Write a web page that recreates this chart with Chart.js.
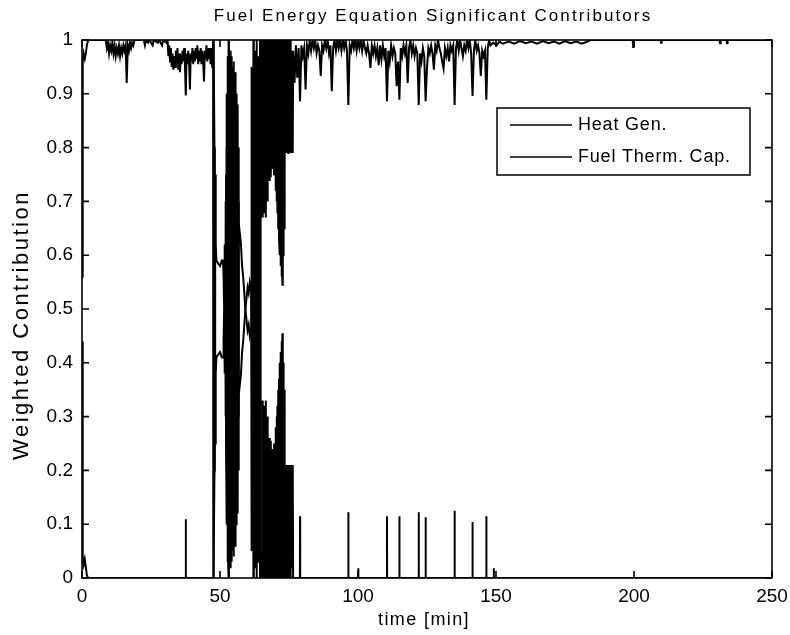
<!DOCTYPE html>
<html>
<head>
<meta charset="utf-8">
<script src="https://cdn.jsdelivr.net/npm/chart.js@4.4.1/dist/chart.umd.min.js"></script>
<style>
  html, body { margin: 0; padding: 0; background: #fff; }
  #wrap { width: 790px; height: 635px; }
</style>
</head>
<body>
<div id="wrap"><canvas id="chart" width="790" height="635"></canvas></div>
<script>
// axis ticks
const xTicks = [0, 50, 100, 150, 200, 250];
const yTicks = [0, 0.1, 0.2, 0.3, 0.4, 0.5, 0.6, 0.7, 0.8, 0.9, 1];

const chartTitle = 'Fuel Energy Equation Significant Contributors';
const xTitle = 'time [min]';
const yTitle = 'Weighted Contribution';
const seriesLabels = ['Heat Gen.', 'Fuel Therm. Cap.'];

// Heat Gen. : time [min]
const heatTime = [
  0, 0.25, 0.6, 1.0, 1.4, 1.75, 2.25,
  8.6, 9.0, 9.4, 9.8, 10.2, 10.6, 11.0, 11.4, 11.8, 12.2, 12.6, 13.0, 13.4, 13.8, 14.2, 14.6, 15.0, 15.4, 15.8, 16.2,
  16.6, 17.0, 17.4, 17.8, 18.2, 18.6, 19.0,
  22.4, 22.8, 23.2, 23.9, 24.4, 25.6, 26.0, 27.5, 28.0, 29.0, 29.5, 30.5,
  31.0, 31.3, 31.6, 31.9, 32.2, 32.5, 32.8, 33.1, 33.4, 33.7,
  34.0, 34.3, 34.6, 34.9, 35.2, 35.5, 35.8, 36.1, 36.4, 36.7,
  37.0, 37.3, 37.6, 37.9, 38.2, 38.5, 38.8, 39.1, 39.4, 39.7,
  40.0, 40.3, 40.6, 40.9, 41.2, 41.5, 41.8, 42.1, 42.4, 42.7,
  43.0, 43.3, 43.6, 43.9, 44.2, 44.5, 44.8, 45.1, 45.4, 45.7,
  46.0, 46.3, 46.6, 46.9, 47.2, 47.45,
  // mixing
  47.55, 47.6, 47.65, 47.8, 48.0, 48.15, 48.3, 48.45, 48.7, 49.3, 50.0, 50.7, 51.1, 51.3, 51.5, 51.7, 51.9,
  52.05, 52.2, 52.35, 52.5, 52.65, 52.8, 52.95, 53.1, 53.25, 53.4, 53.55, 53.7, 53.85, 54.0, 54.15, 54.3,
  54.45, 54.6, 54.75, 54.9, 55.05, 55.2, 55.35, 55.5, 55.65, 55.8, 55.95, 56.1, 56.25, 56.4, 56.55, 56.7, 56.85,
  57.2, 57.6, 58.0, 58.4, 58.8, 59.2, 59.6, 60.0, 60.4, 60.8, 61.2, 61.3, 61.4,
  61.5, 61.65, 61.8, 61.95, 62.1, 62.25, 62.4, 62.55, 62.7, 62.85,
  63.0, 63.15, 63.3, 63.45, 63.6, 63.75, 63.9, 64.05, 64.2, 64.35,
  64.5, 64.65, 64.8, 64.95, 65.1, 65.25, 65.4, 65.55, 65.7, 65.85,
  66.0, 66.15, 66.3, 66.45, 66.6, 66.75, 66.9, 67.05, 67.2, 67.35,
  67.5, 67.65, 67.8, 67.95, 68.1, 68.25, 68.4, 68.55, 68.7, 68.85,
  69.0, 69.15, 69.3, 69.45, 69.6, 69.75, 69.9, 70.05, 70.2, 70.35,
  70.5, 70.65, 70.8, 70.95, 71.1, 71.25, 71.4, 71.55, 71.7, 71.85,
  72.0, 72.15, 72.3, 72.45, 72.6, 72.75, 72.9, 73.05, 73.2, 73.35,
  73.5, 73.65, 73.8, 73.95, 74.1, 74.25, 74.4, 74.55, 74.7, 74.85,
  75.0, 75.15, 75.3, 75.45, 75.6, 75.75, 75.9, 76.05, 76.2, 76.35,
  // dense band at the top
  76.5, 77.0, 77.5, 78.0, 78.5, 79.0, 79.5, 80.0, 80.5, 81.0,
  81.5, 82.0, 82.5, 83.0, 83.5, 84.0, 84.5, 85.0, 85.5, 86.0,
  86.5, 87.0, 87.5, 88.0, 88.5, 89.0, 89.5, 90.0, 90.5, 91.0,
  91.5, 92.0, 92.5, 93.0, 93.5, 94.0, 94.5, 95.0, 95.5, 96.0,
  96.5, 97.0, 97.5, 98.0, 98.5, 99.0, 99.5, 100.0, 100.5, 101.0,
  101.5, 102.0, 102.5, 103.0, 103.5, 104.0, 104.5, 105.0, 105.5, 106.0,
  106.5, 107.0, 107.5, 108.0, 108.5, 109.0, 109.5, 110.0, 110.5, 111.0,
  111.5, 112.0, 112.5, 113.0, 113.5, 114.0, 114.5, 115.0, 115.5, 116.0,
  116.5, 117.0, 117.5, 118.0, 118.5, 119.0, 119.5, 120.0, 120.5, 121.0,
  121.5, 122.0, 122.5, 123.0, 123.5, 124.0, 124.5, 125.0, 125.5, 126.0,
  126.5, 127.0, 127.5, 128.0, 128.5, 129.0, 129.5, 130.0, 130.5, 131.0,
  131.5, 132.0, 132.5, 133.0, 133.5, 134.0, 134.5, 135.0, 135.5, 136.0,
  136.5, 137.0, 137.5, 138.0, 138.5, 139.0, 139.5, 140.0, 140.5, 141.0,
  141.5, 142.0, 142.5, 143.0, 143.5, 144.0, 144.5, 145.0, 145.5, 146.0,
  146.5, 147.0, 147.5, 148.0,
  // tail
  149.0, 150.2, 151.2, 152.5, 154.6, 156.6, 158.7, 160.8, 162.8, 164.9,
  167.0, 169.0, 171.0, 173.0, 175.0, 177.0, 179.1, 181.1, 183.1, 184.2,
  199.5, 199.7, 199.9, 209.6, 209.8, 210.0, 231.0, 231.2, 231.4, 233.5,
  233.7, 233.9, 250
];
// Heat Gen. : weighted contribution
const heatGen = [
  0.56, 0.96, 0.975, 0.965, 0.975, 0.99, 1,
  1, 0.985, 0.995, 0.975, 0.99, 0.98, 0.995, 0.975, 0.99, 0.97, 0.985, 0.975, 0.99, 0.97, 0.985, 0.975, 0.99, 0.98, 0.99, 0.92,
  0.99, 0.98, 0.995, 0.985, 0.995, 0.99, 1,
  1, 0.99, 1, 0.995, 1, 0.99, 1, 0.995, 1, 0.99, 1, 0.995,
  1, 0.97, 0.99, 0.96, 0.985, 0.95, 0.975, 0.945, 0.97, 0.95,
  0.98, 0.955, 0.985, 0.945, 0.975, 0.94, 0.97, 0.955, 0.98, 0.96,
  0.985, 0.955, 0.897, 0.975, 0.955, 0.98, 0.96, 0.908, 0.975, 0.96,
  0.985, 0.955, 0.98, 0.96, 0.985, 0.965, 0.99, 0.955, 0.98, 0.96,
  0.985, 0.955, 0.98, 0.96, 0.923, 0.98, 0.965, 0.99, 0.96, 0.985,
  0.965, 0.985, 0.955, 0.985, 0.95, 0.99,
  // mixing
  1, 0, 1, 0.99, 0.8, 0.25, 0.75, 0.62, 0.59, 0.585, 0.58, 0.59, 0.59, 0.56, 0.5, 0.62, 0.4,
  0.7, 0.25, 0.8, 0.1, 0.9, 0.03, 0.97, 0, 1, 0.05, 0.98, 0.02, 0.95, 0.08, 0.97, 0.05,
  0.9, 0.1, 0.93, 0.04, 0.88, 0.12, 0.85, 0.06, 0.8, 0.1, 0.82, 0.15, 0.75, 0.12, 0.7, 0.2, 0.66,
  0.64, 0.62, 0.58, 0.56, 0.53, 0.5, 0.48, 0.46, 0.47, 0.45, 0.46, 0.45, 0.83,
  0.95, 0.1, 0.9, 0.3, 1, 0.05, 0.85, 0.2, 0.98, 0.15,
  0.92, 0.35, 1, 0.1, 0.88, 0.25, 0.97, 0.4, 0.9, 0.3,
  1, 0.5, 0.95, 1, 1, 1, 0.67, 0.98, 0.72, 1,
  0.68, 0.97, 0.8, 1, 0.67, 0.96, 0.78, 1, 0.7, 0.98,
  0.8, 1, 0.74, 0.97, 0.8, 1, 0.745, 0.98, 0.79, 1,
  0.76, 0.97, 0.8, 1, 0.75, 0.96, 0.79, 1, 0.72, 0.98,
  0.7, 1, 0.68, 0.97, 0.65, 1, 0.63, 0.96, 0.6, 1,
  0.58, 0.97, 0.56, 1, 0.545, 0.98, 0.6, 1, 0.65, 0.97,
  0.79, 1, 0.8, 0.97, 0.79, 1, 0.8, 0.98, 0.79, 1,
  0.8, 0.97, 0.79, 1, 0.8, 0.98, 0.79, 0.81, 0.8, 0.79,
  // dense band at the top
  0.98, 0.92, 0.99, 0.93, 0.985, 0.886, 0.99, 0.97, 0.985, 0.908,
  0.99, 0.975, 1, 0.98, 1, 0.985, 1, 0.975, 0.99, 0.98,
  0.933, 0.99, 0.98, 1, 0.985, 1, 0.975, 0.99, 0.905, 0.985,
  1, 0.98, 1, 0.985, 1, 0.98, 1, 0.985, 1, 0.98,
  0.879, 0.99, 0.98, 1, 0.985, 1, 0.98, 1, 0.985, 1,
  0.98, 1, 0.985, 0.975, 0.99, 0.975, 0.948, 0.99, 0.975, 0.99,
  0.97, 0.985, 0.953, 0.99, 0.965, 0.99, 0.97, 0.985, 0.886, 0.98,
  0.96, 0.99, 0.97, 0.985, 0.975, 0.914, 0.96, 0.889, 0.985, 0.97,
  0.99, 0.975, 0.99, 0.92, 0.985, 1, 0.975, 0.99, 0.97, 0.985,
  0.975, 0.879, 0.975, 0.96, 0.985, 0.97, 0.886, 0.948, 0.985, 0.975,
  0.99, 0.975, 0.945, 0.99, 0.98, 1, 0.985, 0.975, 0.96, 0.947,
  0.985, 0.97, 0.985, 0.96, 0.99, 0.98, 0.99, 0.879, 0.985, 1,
  0.98, 1, 0.985, 0.97, 0.99, 0.98, 1, 0.985, 1, 0.975,
  0.896, 0.98, 1, 0.98, 0.99, 0.975, 0.933, 0.98, 0.97, 0.98,
  0.889, 0.985, 1, 0.99,
  // tail
  0.995, 0.99, 0.997, 0.993, 0.997, 0.993, 0.998, 0.994, 0.997, 0.993,
  0.998, 0.994, 0.997, 0.993, 0.998, 0.994, 0.997, 0.993, 0.997, 1,
  1, 0.987, 1, 1, 0.995, 1, 1, 0.994, 1, 1,
  0.994, 1, 1
];

// Fuel Therm. Cap. : time [min]
const fuelTime = [
  0, 0.25, 0.6, 1.0, 1.4, 1.75, 2.25, 37.55, 37.6, 37.65, 47.5,
  47.55, 47.6, 47.65, 47.8, 48.0, 48.15, 48.3, 48.45, 48.7, 49.3, 50.0, 50.7, 51.1, 51.3, 51.5, 51.7, 51.9,
  52.05, 52.2, 52.35, 52.5, 52.65, 52.8, 52.95, 53.1, 53.25, 53.4, 53.55, 53.7, 53.85, 54.0, 54.15, 54.3,
  54.45, 54.6, 54.75, 54.9, 55.05, 55.2, 55.35, 55.5, 55.65, 55.8, 55.95, 56.1, 56.25, 56.4, 56.55, 56.7, 56.85,
  57.2, 57.6, 58.0, 58.4, 58.8, 59.2, 59.6, 60.0, 60.4, 60.8, 61.2, 61.3, 61.4,
  61.5, 61.65, 61.8, 61.95, 62.1, 62.25, 62.4, 62.55, 62.7, 62.85,
  63.0, 63.15, 63.3, 63.45, 63.6, 63.75, 63.9, 64.05, 64.2, 64.35,
  64.5, 64.65, 64.8, 64.95, 65.1, 65.25, 65.4, 65.55, 65.7, 65.85,
  66.0, 66.15, 66.3, 66.45, 66.6, 66.75, 66.9, 67.05, 67.2, 67.35,
  67.5, 67.65, 67.8, 67.95, 68.1, 68.25, 68.4, 68.55, 68.7, 68.85,
  69.0, 69.15, 69.3, 69.45, 69.6, 69.75, 69.9, 70.05, 70.2, 70.35,
  70.5, 70.65, 70.8, 70.95, 71.1, 71.25, 71.4, 71.55, 71.7, 71.85,
  72.0, 72.15, 72.3, 72.45, 72.6, 72.75, 72.9, 73.05, 73.2, 73.35,
  73.5, 73.65, 73.8, 73.95, 74.1, 74.25, 74.4, 74.55, 74.7, 74.85,
  75.0, 75.15, 75.3, 75.45, 75.6, 75.75, 75.9, 76.05, 76.2, 76.35,
  76.5,
  78.95, 79.0, 79.05, 96.45, 96.5, 96.55, 100.05, 100.1, 100.15, 110.45, 110.5, 110.55,
  114.95, 115.0, 115.05, 121.95, 122.0, 122.05, 124.45, 124.5, 124.55, 134.95, 135.0, 135.05,
  141.45, 141.5, 141.55, 146.45, 146.5, 146.55, 149.15, 149.2, 149.25, 250
];
// Fuel Therm. Cap. : weighted contribution
const fuelCap = [
  0.44, 0.04, 0.025, 0.035, 0.02, 0.005, 0, 0, 0.109, 0, 0,
  0, 1, 0, 0.01, 0.2, 0.75, 0.25, 0.38, 0.41, 0.415, 0.42, 0.41, 0.41, 0.44, 0.5, 0.38, 0.6,
  0.3, 0.75, 0.2, 0.9, 0.1, 0.97, 0.03, 1, 0, 0.95, 0.02, 0.98, 0.05, 0.92, 0.03, 0.95,
  0.1, 0.9, 0.07, 0.96, 0.12, 0.88, 0.15, 0.94, 0.2, 0.9, 0.18, 0.85, 0.25, 0.88, 0.3, 0.8, 0.34,
  0.36, 0.38, 0.42, 0.44, 0.47, 0.5, 0.52, 0.54, 0.53, 0.55, 0.54, 0.55, 0.17,
  0.05, 0.9, 0.1, 0.7, 0, 0.95, 0.15, 0.8, 0.02, 0.85,
  0.08, 0.65, 0, 0.9, 0.12, 0.75, 0.03, 0.6, 0.1, 0.7,
  0, 0.5, 0.05, 0, 0, 0, 0.33, 0.02, 0.28, 0,
  0.32, 0.03, 0.2, 0, 0.33, 0.04, 0.22, 0, 0.3, 0.02,
  0.2, 0, 0.26, 0.03, 0.2, 0, 0.255, 0.02, 0.21, 0,
  0.24, 0.03, 0.2, 0, 0.25, 0.04, 0.21, 0, 0.28, 0.02,
  0.3, 0, 0.32, 0.03, 0.35, 0, 0.37, 0.04, 0.4, 0,
  0.42, 0.03, 0.44, 0, 0.455, 0.02, 0.4, 0, 0.35, 0.03,
  0.21, 0, 0.2, 0.03, 0.21, 0, 0.2, 0.02, 0.21, 0,
  0.2, 0.03, 0.21, 0, 0.2, 0.02, 0.21, 0.19, 0.2, 0.21,
  0,
  0, 0.115, 0, 0, 0.122, 0, 0, 0.018, 0, 0, 0.115, 0,
  0, 0.115, 0, 0, 0.122, 0, 0, 0.113, 0, 0, 0.125, 0,
  0, 0.104, 0, 0, 0.115, 0, 0, 0.018, 0, 0
];

Chart.defaults.font.family = '"Liberation Sans", Arial, sans-serif';
Chart.defaults.color = '#000';

const FONT = '"Liberation Sans", Arial, sans-serif';

function drawText(ctx, text, x, y, size, spacing, angle) {
  ctx.save();
  ctx.translate(x, y);
  if (angle) ctx.rotate(angle);
  ctx.font = size + 'px ' + FONT;
  if ('letterSpacing' in ctx) ctx.letterSpacing = spacing + 'px';
  ctx.textAlign = 'center';
  ctx.textBaseline = 'middle';
  ctx.fillStyle = '#000';
  ctx.fillText(text, 0, 0);
  ctx.restore();
}

// box, inward ticks, titles and legend like the original figure
const framePlugin = {
  id: 'frame',
  afterDatasetsDraw(chart) {
    const { ctx, chartArea: a, scales: { x, y } } = chart;
    ctx.save();
    ctx.strokeStyle = '#000';
    ctx.lineWidth = 1.6;
    ctx.strokeRect(a.left, a.top, a.right - a.left, a.bottom - a.top);
    ctx.beginPath();
    for (const v of xTicks) {
      const px = x.getPixelForValue(v);
      ctx.moveTo(px, a.bottom); ctx.lineTo(px, a.bottom - 7);
      ctx.moveTo(px, a.top); ctx.lineTo(px, a.top + 7);
    }
    for (const v of yTicks) {
      const py = y.getPixelForValue(v);
      ctx.moveTo(a.left, py); ctx.lineTo(a.left + 7, py);
      ctx.moveTo(a.right, py); ctx.lineTo(a.right - 7, py);
    }
    ctx.stroke();

    // legend
    const bw = 253, bh = 67;
    const bx = a.right - 22 - bw, by = a.top + 68;
    ctx.fillStyle = '#fff';
    ctx.fillRect(bx, by, bw, bh);
    ctx.lineWidth = 1.5;
    ctx.strokeRect(bx, by, bw, bh);
    ctx.font = '18px ' + FONT;
    if ('letterSpacing' in ctx) ctx.letterSpacing = '0.8px';
    ctx.textBaseline = 'middle';
    ctx.fillStyle = '#000';
    chart.data.datasets.forEach((ds, i) => {
      const ly = by + 17 + i * 32;
      ctx.beginPath();
      ctx.lineWidth = 1.5;
      ctx.moveTo(bx + 13, ly);
      ctx.lineTo(bx + 75, ly);
      ctx.stroke();
      ctx.fillText(ds.label, bx + 81, ly);
    });
    ctx.restore();

    drawText(ctx, chartTitle, (a.left + a.right) / 2 + 6, 16, 17, 2.1, 0);
    drawText(ctx, xTitle, a.left + 342, a.bottom + 42, 18, 1.4, 0);
    drawText(ctx, yTitle, 22, a.top + 285, 22, 2.5, -Math.PI / 2);
  }
};

new Chart(document.getElementById('chart'), {
  type: 'line',
  data: {
    datasets: [
      {
        label: seriesLabels[0],
        data: heatTime.map((t, i) => ({ x: t, y: heatGen[i] })),
        borderColor: '#000',
        borderWidth: 2,
        pointRadius: 0
      },
      {
        label: seriesLabels[1],
        data: fuelTime.map((t, i) => ({ x: t, y: fuelCap[i] })),
        borderColor: '#000',
        borderWidth: 2,
        pointRadius: 0
      }
    ]
  },
  options: {
    responsive: false,
    animation: false,
    layout: { padding: { left: 0, right: 18, top: 40, bottom: 0 } },
    plugins: {
      legend: { display: false },
      tooltip: { enabled: false },
      title: { display: false }
    },
    scales: {
      x: {
        type: 'linear',
        min: 0,
        max: 250,
        afterBuildTicks: s => { s.ticks = xTicks.map(v => ({ value: v })); },
        afterFit: s => { s.height = 57; s.paddingLeft = 0; s.paddingRight = 0; },
        ticks: { font: { size: 19 }, color: '#000', padding: 7, maxRotation: 0 },
        grid: { display: false, drawTicks: false },
        border: { display: false }
      },
      y: {
        min: 0,
        max: 1,
        afterBuildTicks: s => { s.ticks = yTicks.map(v => ({ value: v })); },
        afterFit: s => { s.width = 82; s.paddingTop = 0; s.paddingBottom = 0; },
        ticks: { font: { size: 19 }, color: '#000', padding: 9, callback: v => String(v) },
        grid: { display: false, drawTicks: false },
        border: { display: false }
      }
    }
  },
  plugins: [framePlugin]
});
</script>
</body>
</html>
